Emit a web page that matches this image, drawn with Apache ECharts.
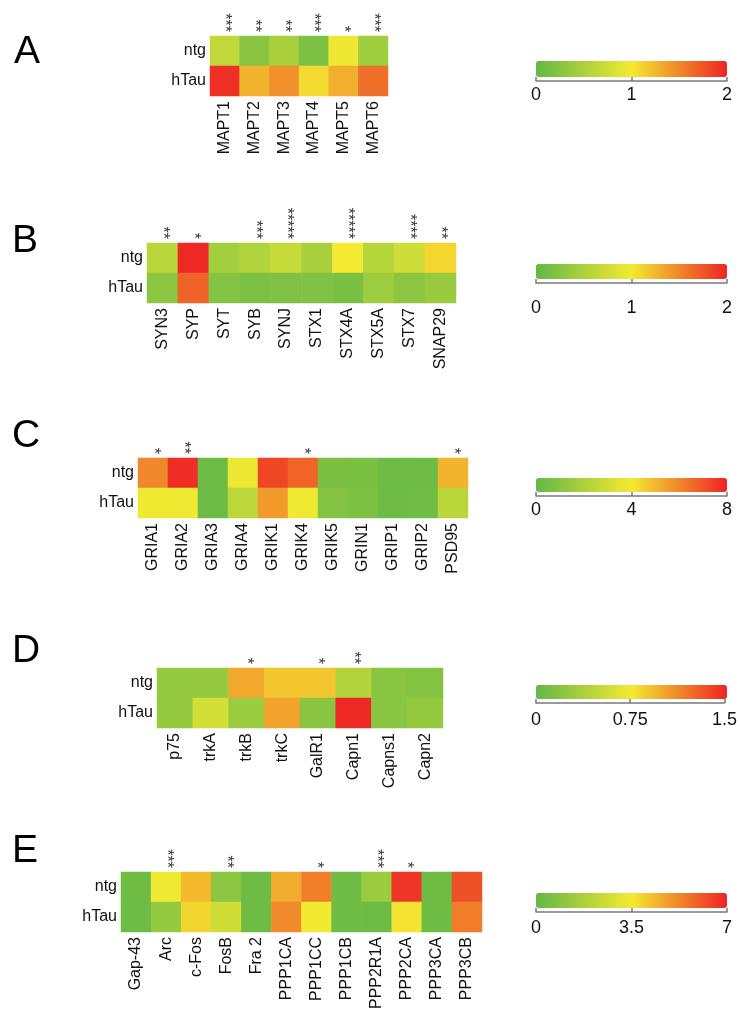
<!DOCTYPE html>
<html>
<head>
<meta charset="utf-8">
<script src="https://cdn.jsdelivr.net/npm/echarts@6/dist/echarts.min.js"></script>
<style>
  html, body { margin: 0; padding: 0; background: #fff; }
  #chart { width: 740px; height: 1020px; }
</style>
</head>
<body>
<div id="chart"></div>
<script>
var rows = ['ntg', 'hTau']

// A: MAPT
var genesA = ['MAPT1', 'MAPT2', 'MAPT3', 'MAPT4', 'MAPT5', 'MAPT6']
var ntgA = [0.64, 0.26, 0.48, 0.18, 0.96, 0.41]
var htauA = [1.94, 1.28, 1.46, 1.08, 1.3, 1.62]
var starsA = ['***', '**', '**', '***', '*', '***']
var ticksA = [0, 1, 2]

// B: synaptic vesicle
var genesB = ['SYN3', 'SYP', 'SYT', 'SYB', 'SYNJ', 'STX1', 'STX4A', 'STX5A', 'STX7', 'SNAP29']
var ntgB = [0.59, 1.98, 0.44, 0.54, 0.68, 0.48, 1.0, 0.57, 0.74, 1.1]
var htauB = [0.28, 1.68, 0.23, 0.18, 0.19, 0.2, 0.16, 0.4, 0.28, 0.38]
var starsB = ['**', '*', '', '***', '*****', '', '*****', '', '****', '**']
var ticksB = [0, 1, 2]

// C: glutamate receptors
var genesC = ['GRIA1', 'GRIA2', 'GRIA3', 'GRIA4', 'GRIK1', 'GRIK4', 'GRIK5', 'GRIN1', 'GRIP1', 'GRIP2', 'PSD95']
var ntgC = [6.0, 7.8, 0.28, 3.8, 7.3, 6.7, 0.66, 0.64, 0.3, 0.3, 5.1]
var htauC = [3.9, 3.9, 0.28, 2.45, 5.6, 3.9, 0.9, 0.7, 0.3, 0.35, 2.4]
var starsC = ['*', '**', '', '', '', '*', '', '', '', '', '*']
var ticksC = [0, 4, 8]

// D: neurotrophin receptors, calpains
var genesD = ['p75', 'trkA', 'trkB', 'trkC', 'GalR1', 'Capn1', 'Capns1', 'Capn2']
var ntgD = [0.26, 0.26, 1.0, 0.89, 0.89, 0.41, 0.2, 0.17]
var htauD = [0.26, 0.58, 0.29, 1.02, 0.2, 1.48, 0.2, 0.26]
var starsD = ['', '', '*', '', '*', '**', '', '']
var ticksD = [0, 0.75, 1.5]

// E: immediate early genes, phosphatases
var genesE = ['Gap-43', 'Arc', 'c-Fos', 'FosB', 'Fra 2', 'PPP1CA', 'PPP1CC', 'PPP1CB', 'PPP2R1A', 'PPP2CA', 'PPP3CA', 'PPP3CB']
var ntgE = [0.3, 3.4, 4.35, 0.98, 0.3, 4.6, 5.4, 0.3, 1.35, 6.7, 0.3, 6.2]
var htauE = [0.3, 1.2, 3.87, 2.6, 0.3, 5.2, 3.45, 0.3, 0.3, 3.6, 0.3, 5.45]
var starsE = ['', '***', '', '**', '', '', '*', '', '***', '*', '', '']
var ticksE = [0, 3.5, 7]

var panels = [
  { letter: 'A', genes: genesA, ntg: ntgA, htau: htauA, stars: starsA, ticks: ticksA },
  { letter: 'B', genes: genesB, ntg: ntgB, htau: htauB, stars: starsB, ticks: ticksB },
  { letter: 'C', genes: genesC, ntg: ntgC, htau: htauC, stars: starsC, ticks: ticksC },
  { letter: 'D', genes: genesD, ntg: ntgD, htau: htauD, stars: starsD, ticks: ticksD },
  { letter: 'E', genes: genesE, ntg: ntgE, htau: htauE, stars: starsE, ticks: ticksE }
]

// where each panel sits on the page
var layout = [
  { lx: 14, ly: 55, grid: [210, 36, 178, 60], bar: 61, line: 81, gap: 5 },
  { lx: 12, ly: 244, grid: [147, 243, 309, 60], bar: 264, line: 283, gap: 16 },
  { lx: 12, ly: 439, grid: [138, 458, 330, 60], bar: 478, line: 496, gap: 5 },
  { lx: 12, ly: 654, grid: [157, 668, 286, 60], bar: 685, line: 703, gap: 8 },
  { lx: 12, ly: 854, grid: [121, 872, 361, 60], bar: 893, line: 912, gap: 7 }
]

var font = '"Liberation Sans", Arial, Helvetica, sans-serif'
var scale = ['#63b847', '#f4ea31', '#ee2424']
var barLeft = 536
var barLength = 191

var grid = [], xAxis = [], yAxis = [], series = [], visualMap = [], graphic = []

panels.forEach(function (p, i) {
  var l = layout[i]
  var max = p.ticks[p.ticks.length - 1]
  var data = []
  p.genes.forEach(function (g, j) {
    data.push([j, 0, p.ntg[j]])
    data.push([j, 1, p.htau[j]])
  })

  grid.push({ left: l.grid[0], top: l.grid[1], width: l.grid[2], height: l.grid[3] })
  grid.push({ left: barLeft, top: l.bar, width: barLength, height: l.line - l.bar })

  // gene names under the cells
  xAxis.push({
    type: 'category', gridIndex: 2 * i, data: p.genes, position: 'bottom',
    axisLine: { show: false }, axisTick: { show: false }, splitLine: { show: false },
    axisLabel: { rotate: 90, margin: 5, color: '#111', fontSize: 16, fontFamily: font, interval: 0 }
  })
  // significance stars above the cells
  xAxis.push({
    type: 'category', gridIndex: 2 * i, data: p.stars, position: 'top',
    axisLine: { show: false }, axisTick: { show: false }, splitLine: { show: false },
    axisLabel: { rotate: 90, margin: 4, color: '#333', fontSize: 16, fontFamily: font, interval: 0 }
  })
  // colour bar scale
  xAxis.push({
    type: 'value', gridIndex: 2 * i + 1, min: 0, max: max, interval: p.ticks[1],
    position: 'bottom', splitLine: { show: false },
    axisLine: { show: true, lineStyle: { color: '#7a7a7a', width: 1.5 } },
    axisTick: { show: true, inside: true, length: 4, lineStyle: { color: '#7a7a7a', width: 1.5 } },
    axisLabel: { margin: l.gap, color: '#111', fontSize: 18, fontFamily: font }
  })

  yAxis.push({
    type: 'category', gridIndex: 2 * i, data: rows, inverse: true,
    axisLine: { show: false }, axisTick: { show: false }, splitLine: { show: false },
    axisLabel: { margin: 4, color: '#111', fontSize: 16, fontFamily: font }
  })
  yAxis.push({ type: 'value', gridIndex: 2 * i + 1, show: false, min: 0, max: 1 })

  series.push({
    type: 'heatmap', xAxisIndex: 3 * i, yAxisIndex: 2 * i, data: data,
    itemStyle: { borderWidth: 0 }, emphasis: { disabled: true }
  })

  visualMap.push({
    type: 'continuous', seriesIndex: i, min: 0, max: max, orient: 'horizontal',
    left: barLeft, top: l.bar, itemWidth: l.line - l.bar - 4, itemHeight: barLength,
    padding: 0, calculable: false, hoverLink: false, text: null,
    inRange: { color: scale }
  })

  graphic.push({
    type: 'text', left: l.lx, top: l.ly - 22,
    style: { text: p.letter, fontSize: 39, fontFamily: font, fill: '#000' }
  })
})

var chart = echarts.init(document.getElementById('chart'))
chart.setOption({
  animation: false,
  grid: grid,
  xAxis: xAxis,
  yAxis: yAxis,
  visualMap: visualMap,
  graphic: graphic,
  series: series
})
</script>
</body>
</html>
